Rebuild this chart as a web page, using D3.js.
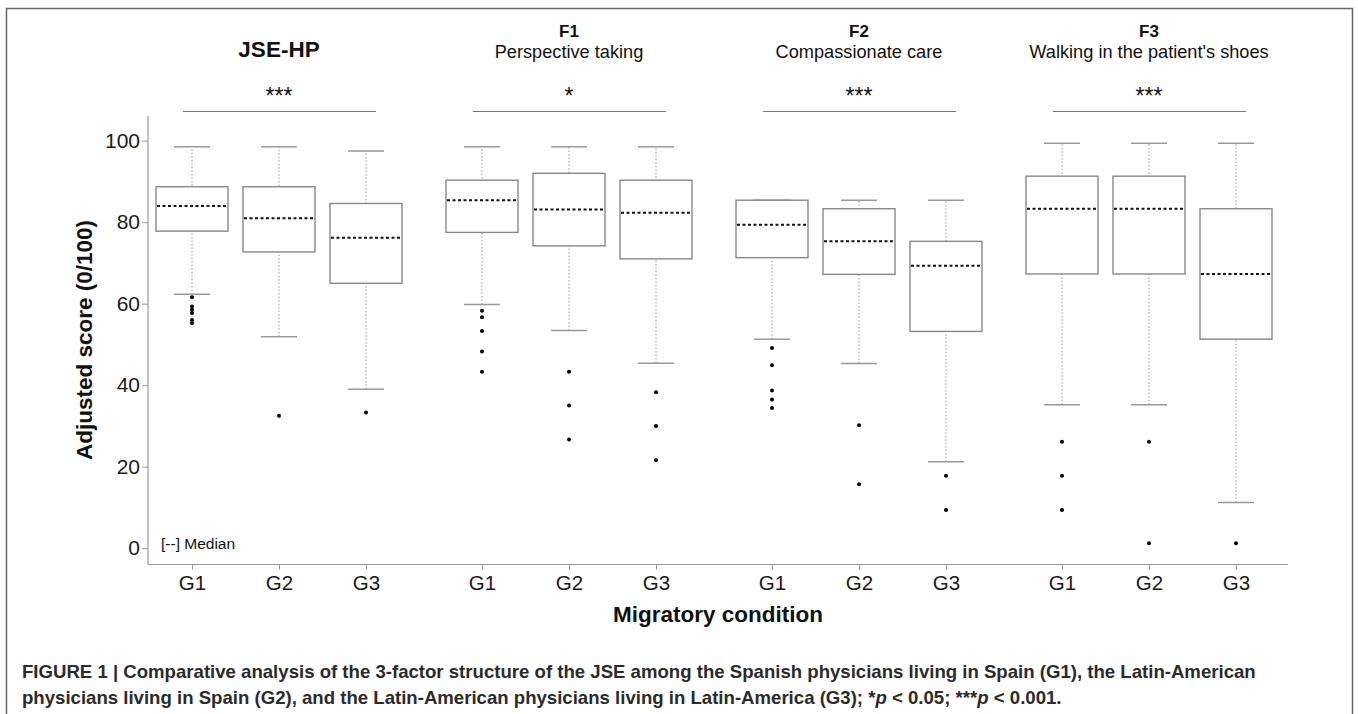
<!DOCTYPE html>
<html>
<head>
<meta charset="utf-8">
<script src="https://cdn.jsdelivr.net/npm/d3@7"></script>
<style>
  body { margin: 0; background: #fff; }
  svg { display: block; font-family: "Liberation Sans", Arial, Helvetica, sans-serif; }
</style>
</head>
<body>
<svg id="chart" width="1358" height="714"></svg>
<script>
const factors = ['JSE-HP', 'F1', 'F2', 'F3'];
const factorSubtitles = ['', 'Perspective taking', 'Compassionate care', "Walking in the patient's shoes"];
const significance = ['***', '*', '***', '***'];
const groups = ['G1', 'G2', 'G3'];

// one row per factor, one value per group (G1, G2, G3)
const whiskerLow  = [[62.3, 51.9, 39.0], [59.8, 53.4, 45.4], [51.3, 45.3, 21.2], [35.2, 35.2, 11.2]];
const q1          = [[77.8, 72.7, 65.0], [77.5, 74.2, 71.0], [71.3, 67.2, 53.2], [67.3, 67.3, 51.3]];
const medians     = [[84.0, 81.0, 76.2], [85.4, 83.1, 82.3], [79.4, 75.3, 69.3], [83.3, 83.3, 67.3]];
const q3          = [[88.7, 88.7, 84.6], [90.3, 92.0, 90.3], [85.4, 83.3, 75.3], [91.3, 91.3, 83.3]];
const whiskerHigh = [[98.5, 98.5, 97.5], [98.5, 98.5, 98.5], [85.4, 85.4, 85.4], [99.4, 99.4, 99.4]];
const outliers = [
  [[61.6, 59.3, 58.5, 57.7, 56.0, 55.2], [32.5], [33.3]],
  [[58.3, 56.7, 53.3, 48.3, 43.3], [43.3, 35.0, 26.7], [38.3, 30.0, 21.6]],
  [[49.1, 44.9, 38.7, 36.5, 34.4], [30.2, 15.7], [17.8, 9.4]],
  [[26.1, 17.8, 9.4], [26.1, 1.2], [1.2]]
];
const yTicks = [0, 20, 40, 60, 80, 100];

const svg = d3.select('#chart');
const boxWidth = 72;
const capWidth = 36;

const y = d3.scaleLinear().domain([0, 100]).range([548.2, 140.7]);
const xFactor = d3.scaleBand().domain(factors).range([134, 1294]);
const xGroup = d3.scalePoint().domain(groups).range([-87, 87]);
const cx = (f, g) => xFactor(f) + xFactor.bandwidth() / 2 + xGroup(g);

// flatten into one record per box
const boxes = [];
factors.forEach((f, i) => groups.forEach((g, j) => boxes.push({
  factor: f, group: g,
  lo: whiskerLow[i][j], q1: q1[i][j], med: medians[i][j], q3: q3[i][j], hi: whiskerHigh[i][j],
  out: outliers[i][j]
})));

// outer frame (open at the bottom)
svg.append('path')
  .attr('d', 'M6.5,720 V8.5 H1352.5 V720')
  .attr('fill', 'none')
  .attr('stroke', '#666')
  .attr('stroke-width', 1.5);

// axes lines
svg.append('line')
  .attr('x1', 148).attr('x2', 148).attr('y1', 116).attr('y2', 564.5)
  .attr('stroke', '#999').attr('stroke-width', 1.2);
svg.append('line')
  .attr('x1', 148).attr('x2', 1288).attr('y1', 564.5).attr('y2', 564.5)
  .attr('stroke', '#999').attr('stroke-width', 1.2);

const yAxis = svg.append('g')
  .attr('transform', 'translate(148,0)')
  .call(d3.axisLeft(y).tickValues(yTicks).tickSize(6).tickSizeOuter(0).tickPadding(2));
yAxis.select('.domain').remove();
yAxis.selectAll('line').attr('stroke', '#999');
yAxis.selectAll('text')
  .attr('font-size', 21).attr('fill', '#1a1a1a')
  .attr('font-family', '"Liberation Sans", Arial, sans-serif');

factors.forEach(f => {
  const ax = svg.append('g')
    .attr('transform', `translate(${xFactor(f) + xFactor.bandwidth() / 2},564.5)`)
    .call(d3.axisBottom(xGroup).tickSize(5).tickSizeOuter(0).tickPadding(6));
  ax.select('.domain').remove();
  ax.selectAll('line').attr('stroke', '#999');
  ax.selectAll('text')
    .attr('font-size', 20.5).attr('fill', '#1a1a1a')
    .attr('font-family', '"Liberation Sans", Arial, sans-serif');
});

// whiskers
const bx = svg.append('g');
bx.selectAll('.whisker')
  .data(boxes)
  .join('line')
  .attr('class', 'whisker')
  .attr('x1', d => cx(d.factor, d.group)).attr('x2', d => cx(d.factor, d.group))
  .attr('y1', d => y(d.lo)).attr('y2', d => y(d.hi))
  .attr('stroke', '#999').attr('stroke-width', 1)
  .attr('stroke-dasharray', '1.5,2');

bx.selectAll('.cap')
  .data(boxes.flatMap(d => [{d, v: d.lo}, {d, v: d.hi}]))
  .join('line')
  .attr('class', 'cap')
  .attr('x1', c => cx(c.d.factor, c.d.group) - capWidth / 2)
  .attr('x2', c => cx(c.d.factor, c.d.group) + capWidth / 2)
  .attr('y1', c => y(c.v)).attr('y2', c => y(c.v))
  .attr('stroke', '#999').attr('stroke-width', 1.5);

bx.selectAll('.box')
  .data(boxes)
  .join('rect')
  .attr('class', 'box')
  .attr('x', d => cx(d.factor, d.group) - boxWidth / 2)
  .attr('width', boxWidth)
  .attr('y', d => y(d.q3))
  .attr('height', d => y(d.q1) - y(d.q3))
  .attr('fill', '#fff')
  .attr('stroke', '#888').attr('stroke-width', 1.4);

bx.selectAll('.median')
  .data(boxes)
  .join('line')
  .attr('class', 'median')
  .attr('x1', d => cx(d.factor, d.group) - boxWidth / 2 + 1)
  .attr('x2', d => cx(d.factor, d.group) + boxWidth / 2 - 1)
  .attr('y1', d => y(d.med)).attr('y2', d => y(d.med))
  .attr('stroke', '#111').attr('stroke-width', 2)
  .attr('stroke-dasharray', '3,2.5');

bx.selectAll('.outlier')
  .data(boxes.flatMap(d => d.out.map(v => ({d, v}))))
  .join('circle')
  .attr('class', 'outlier')
  .attr('cx', o => cx(o.d.factor, o.d.group))
  .attr('cy', o => y(o.v))
  .attr('r', 2)
  .attr('fill', '#000');

// titles, significance stars and bars
factors.forEach((f, i) => {
  const mid = xFactor(f) + xFactor.bandwidth() / 2;
  if (factorSubtitles[i] === '') {
    svg.append('text')
      .attr('x', mid).attr('y', 57)
      .attr('text-anchor', 'middle')
      .attr('font-size', 22.5).attr('font-weight', 'bold').attr('fill', '#111')
      .text(f);
  } else {
    svg.append('text')
      .attr('x', mid).attr('y', 36.5)
      .attr('text-anchor', 'middle')
      .attr('font-size', 17).attr('font-weight', 'bold').attr('fill', '#111')
      .text(f);
    svg.append('text')
      .attr('x', mid).attr('y', 58)
      .attr('text-anchor', 'middle')
      .attr('font-size', 18.2).attr('fill', '#111')
      .text(factorSubtitles[i]);
  }
  svg.append('text')
    .attr('x', mid).attr('y', 104)
    .attr('text-anchor', 'middle')
    .attr('font-size', 23).attr('fill', '#111')
    .text(significance[i]);
  svg.append('line')
    .attr('x1', cx(f, 'G1') - 9).attr('x2', cx(f, 'G3') + 10)
    .attr('y1', 111.5).attr('y2', 111.5)
    .attr('stroke', '#777').attr('stroke-width', 1.2);
});

// legend
svg.append('text')
  .attr('x', 161).attr('y', 548.5)
  .attr('font-size', 15.5).attr('fill', '#111')
  .text('[--] Median');

// axis titles
svg.append('text')
  .attr('transform', 'translate(92,340) rotate(-90)')
  .attr('text-anchor', 'middle')
  .attr('font-size', 22.5).attr('font-weight', 'bold').attr('fill', '#111')
  .text('Adjusted score (0/100)');
svg.append('text')
  .attr('x', 718).attr('y', 621.5)
  .attr('text-anchor', 'middle')
  .attr('font-size', 22.5).attr('font-weight', 'bold').attr('fill', '#111')
  .text('Migratory condition');

// caption
const cap = svg.append('g')
  .attr('font-size', 18.6).attr('font-weight', 'bold').attr('fill', '#2b2b2b');
cap.append('text').attr('x', 22).attr('y', 678)
  .text('FIGURE 1 | Comparative analysis of the 3-factor structure of the JSE among the Spanish physicians living in Spain (G1), the Latin-American');
const line2 = cap.append('text').attr('x', 22).attr('y', 703.5);
line2.append('tspan').text('physicians living in Spain (G2), and the Latin-American physicians living in Latin-America (G3); *');
line2.append('tspan').attr('font-style', 'italic').text('p');
line2.append('tspan').text(' < 0.05; ***');
line2.append('tspan').attr('font-style', 'italic').text('p');
line2.append('tspan').text(' < 0.001.');
</script>
</body>
</html>
